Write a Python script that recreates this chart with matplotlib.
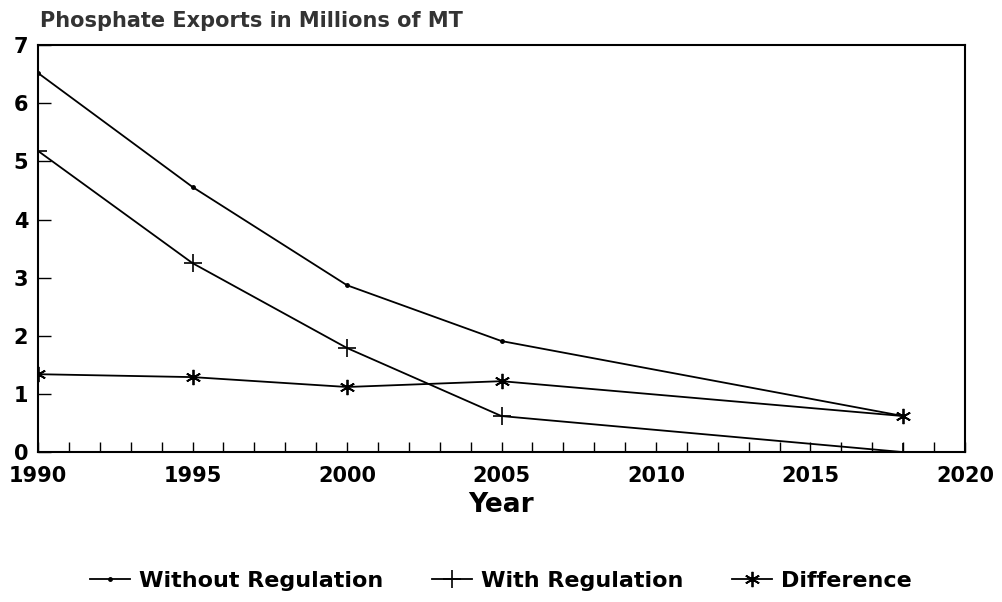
import numpy as np
import matplotlib.pyplot as plt
from matplotlib.ticker import MultipleLocator

plt.rcParams['font.family'] = ['DejaVu Sans']
plt.rcParams['font.weight'] = 'bold'

# data
years = [1990, 1995, 2000, 2005, 2018]
without_reg = [6.52, 4.56, 2.87, 1.91, 0.62]
with_reg = [5.18, 3.25, 1.79, 0.62, 0.0]
difference = [1.34, 1.29, 1.12, 1.22, 0.62]

fig = plt.figure(figsize=(10.02, 6.02), dpi=100)
ax = fig.add_axes([0.038, 0.249, 0.925, 0.676])

ax.plot(years, without_reg, 'k-', marker='o', markersize=2.5, lw=1.3, label="Without Regulation")
ax.plot(years, with_reg, 'k-', marker='+', markersize=13, mew=1.2, lw=1.3, label="With Regulation")
ax.plot(years, difference, 'k-', marker=(6, 2, 0), markersize=11, mew=1.3, lw=1.3, label="Difference")

ax.set_xlim(1990, 2020)
ax.set_ylim(0, 7)
ax.xaxis.set_major_locator(MultipleLocator(5))
ax.xaxis.set_minor_locator(MultipleLocator(1))
ax.yaxis.set_major_locator(MultipleLocator(1))
ax.tick_params(axis='x', which='both', direction='in', length=7, width=1, labelsize=15, pad=10)
ax.tick_params(axis='y', which='both', direction='in', length=9, width=1, labelsize=15, pad=7)
for s in ax.spines.values():
    s.set_linewidth(1.5)

ax.set_xlabel("Year", fontsize=19, fontweight='bold', labelpad=4)
fig.text(0.04, 0.955, "Phosphate Exports in Millions of MT", fontsize=15, fontweight='bold', color='#333333')

fig.legend(loc='center', bbox_to_anchor=(0.5, 0.035), ncol=3, frameon=False,
           fontsize=16, handlelength=1.8, columnspacing=2.2, handletextpad=0.4)

fig.savefig("out.png", dpi=100)
